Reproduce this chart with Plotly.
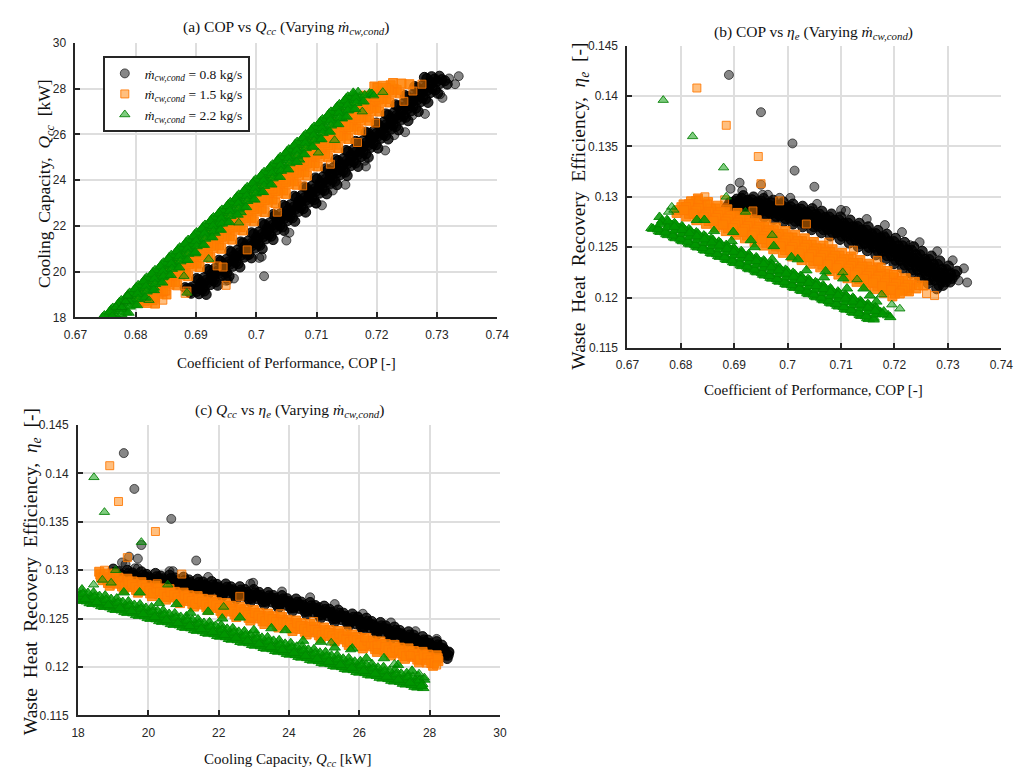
import plotly.graph_objects as go

# ======================= m_cw,cond = 0.8 kg/s =======================
# dense band, layer 1
cop_08 = [
    0.6917, 0.6889, 0.6910, 0.6882, 0.6936, 0.6908, 0.6929, 0.6901, 0.6955, 0.6926,
    0.6948, 0.6919, 0.6973, 0.6945, 0.6966, 0.6938, 0.6992, 0.6963, 0.6984, 0.6956,
    0.7010, 0.6981, 0.7003, 0.6974, 0.7028, 0.7000, 0.7021, 0.6992, 0.7046, 0.7018,
    0.7039, 0.7010, 0.7064, 0.7035, 0.7056, 0.7028, 0.7082, 0.7053, 0.7074, 0.7045,
    0.7099, 0.7071, 0.7092, 0.7063, 0.7117, 0.7088, 0.7109, 0.7080, 0.7134, 0.7106,
    0.7126, 0.7098, 0.7151, 0.7123, 0.7144, 0.7115, 0.7169, 0.7140, 0.7161, 0.7132,
    0.7186, 0.7157, 0.7177, 0.7149, 0.7202, 0.7174, 0.7194, 0.7165, 0.7219, 0.7190,
    0.7211, 0.7182, 0.7236, 0.7207, 0.7227, 0.7199, 0.7252, 0.7223, 0.7244, 0.7215,
    0.7269, 0.7240, 0.7260, 0.7231, 0.7285, 0.7256, 0.7276, 0.7247, 0.7301, 0.7272,
    0.7292, 0.7263, 0.7317, 0.7288, 0.7308, 0.7279,
]
qcc_08 = [
    19.0, 19.1, 19.2, 19.3, 19.4, 19.5, 19.6, 19.7, 19.8, 19.9,
    20.0, 20.1, 20.2, 20.3, 20.4, 20.5, 20.6, 20.7, 20.8, 20.9,
    21.0, 21.1, 21.2, 21.3, 21.4, 21.5, 21.6, 21.7, 21.8, 21.9,
    22.0, 22.1, 22.2, 22.3, 22.4, 22.5, 22.6, 22.7, 22.8, 22.9,
    23.0, 23.1, 23.2, 23.3, 23.4, 23.5, 23.6, 23.7, 23.8, 23.9,
    24.0, 24.1, 24.2, 24.3, 24.4, 24.5, 24.6, 24.7, 24.8, 24.9,
    25.0, 25.1, 25.2, 25.3, 25.4, 25.5, 25.6, 25.7, 25.8, 25.9,
    26.0, 26.1, 26.2, 26.3, 26.4, 26.5, 26.6, 26.7, 26.8, 26.9,
    27.0, 27.1, 27.2, 27.3, 27.4, 27.5, 27.6, 27.7, 27.8, 27.9,
    28.0, 28.1, 28.2, 28.3, 28.4, 28.5,
]
eta_08 = [
    0.13012, 0.12919, 0.12961, 0.12867, 0.12999, 0.12905, 0.12947, 0.12853, 0.12984, 0.12890,
    0.12931, 0.12837, 0.12967, 0.12873, 0.12913, 0.12819, 0.12949, 0.12854, 0.12894, 0.12799,
    0.12929, 0.12833, 0.12873, 0.12777, 0.12907, 0.12811, 0.12850, 0.12754, 0.12883, 0.12787,
    0.12825, 0.12729, 0.12858, 0.12761, 0.12799, 0.12702, 0.12830, 0.12733, 0.12771, 0.12674,
    0.12801, 0.12704, 0.12741, 0.12643, 0.12770, 0.12672, 0.12709, 0.12611, 0.12738, 0.12639,
    0.12676, 0.12577, 0.12703, 0.12604, 0.12640, 0.12541, 0.12667, 0.12568, 0.12603, 0.12504,
    0.12629, 0.12529, 0.12565, 0.12465, 0.12589, 0.12489, 0.12524, 0.12424, 0.12548, 0.12447,
    0.12482, 0.12381, 0.12505, 0.12404, 0.12437, 0.12336, 0.12460, 0.12358, 0.12392, 0.12290,
    0.12413, 0.12311, 0.12344, 0.12242, 0.12364, 0.12262, 0.12294, 0.12192, 0.12314, 0.12211,
    0.12243, 0.12140, 0.12262, 0.12159, 0.12190, 0.12087,
]
# dense band, layer 2
cop_08_b = [
    0.6892, 0.6914, 0.6885, 0.6907, 0.6911, 0.6933, 0.6904, 0.6926, 0.6930, 0.6951,
    0.6923, 0.6944, 0.6948, 0.6970, 0.6941, 0.6963, 0.6967, 0.6988, 0.6959, 0.6981,
    0.6985, 0.7006, 0.6978, 0.6999, 0.7003, 0.7025, 0.6996, 0.7017, 0.7021, 0.7043,
    0.7014, 0.7035, 0.7039, 0.7060, 0.7031, 0.7053, 0.7057, 0.7078, 0.7049, 0.7070,
    0.7074, 0.7096, 0.7067, 0.7088, 0.7092, 0.7113, 0.7084, 0.7105, 0.7109, 0.7131,
    0.7101, 0.7123, 0.7126, 0.7148, 0.7119, 0.7140, 0.7144, 0.7165, 0.7136, 0.7157,
    0.7161, 0.7182, 0.7152, 0.7174, 0.7177, 0.7199, 0.7169, 0.7190, 0.7194, 0.7215,
    0.7186, 0.7207, 0.7211, 0.7232, 0.7202, 0.7224, 0.7227, 0.7248, 0.7219, 0.7240,
    0.7244, 0.7265, 0.7235, 0.7256, 0.7260, 0.7281, 0.7251, 0.7272, 0.7276, 0.7297,
    0.7267, 0.7288, 0.7292, 0.7313, 0.7283, 0.7304,
]
qcc_08_b = [
    19.05, 19.15, 19.25, 19.35, 19.45, 19.55, 19.65, 19.75, 19.85, 19.95,
    20.05, 20.15, 20.25, 20.35, 20.45, 20.55, 20.65, 20.75, 20.85, 20.95,
    21.05, 21.15, 21.25, 21.35, 21.45, 21.55, 21.65, 21.75, 21.85, 21.95,
    22.05, 22.15, 22.25, 22.35, 22.45, 22.55, 22.65, 22.75, 22.85, 22.95,
    23.05, 23.15, 23.25, 23.35, 23.45, 23.55, 23.65, 23.75, 23.85, 23.95,
    24.05, 24.15, 24.25, 24.35, 24.45, 24.55, 24.65, 24.75, 24.85, 24.95,
    25.05, 25.15, 25.25, 25.35, 25.45, 25.55, 25.65, 25.75, 25.85, 25.95,
    26.05, 26.15, 26.25, 26.35, 26.45, 26.55, 26.65, 26.75, 26.85, 26.95,
    27.05, 27.15, 27.25, 27.35, 27.45, 27.55, 27.65, 27.75, 27.85, 27.95,
    28.05, 28.15, 28.25, 28.35, 28.45, 28.55,
]
eta_08_b = [
    0.12945, 0.12986, 0.12894, 0.12934, 0.12932, 0.12972, 0.12880, 0.12920, 0.12917, 0.12957,
    0.12864, 0.12904, 0.12900, 0.12940, 0.12846, 0.12886, 0.12882, 0.12921, 0.12827, 0.12866,
    0.12862, 0.12900, 0.12806, 0.12844, 0.12840, 0.12878, 0.12783, 0.12821, 0.12816, 0.12854,
    0.12758, 0.12796, 0.12791, 0.12828, 0.12732, 0.12769, 0.12763, 0.12800, 0.12704, 0.12741,
    0.12734, 0.12771, 0.12674, 0.12710, 0.12703, 0.12739, 0.12642, 0.12678, 0.12671, 0.12706,
    0.12609, 0.12644, 0.12636, 0.12671, 0.12573, 0.12608, 0.12600, 0.12635, 0.12536, 0.12571,
    0.12562, 0.12596, 0.12498, 0.12532, 0.12522, 0.12556, 0.12457, 0.12491, 0.12481, 0.12514,
    0.12415, 0.12448, 0.12438, 0.12471, 0.12370, 0.12403, 0.12393, 0.12425, 0.12325, 0.12357,
    0.12346, 0.12378, 0.12277, 0.12309, 0.12297, 0.12329, 0.12227, 0.12259, 0.12247, 0.12278,
    0.12176, 0.12207, 0.12195, 0.12226, 0.12123, 0.12154,
]
# dense band, layer 3
cop_08_c = [
    0.6905, 0.6901, 0.6898, 0.6894, 0.6924, 0.6920, 0.6917, 0.6913, 0.6943, 0.6938,
    0.6936, 0.6931, 0.6961, 0.6957, 0.6954, 0.6950, 0.6980, 0.6975, 0.6972, 0.6968,
    0.6998, 0.6993, 0.6991, 0.6986, 0.7016, 0.7012, 0.7009, 0.7004, 0.7034, 0.7030,
    0.7027, 0.7022, 0.7052, 0.7047, 0.7044, 0.7040, 0.7070, 0.7065, 0.7062, 0.7057,
    0.7087, 0.7083, 0.7080, 0.7075, 0.7105, 0.7100, 0.7097, 0.7092, 0.7122, 0.7118,
    0.7114, 0.7110, 0.7139, 0.7135, 0.7132, 0.7127, 0.7157, 0.7152, 0.7149, 0.7144,
    0.7174, 0.7169, 0.7165, 0.7161, 0.7190, 0.7186, 0.7182, 0.7177, 0.7207, 0.7202,
    0.7199, 0.7194, 0.7224, 0.7219, 0.7215, 0.7211, 0.7240, 0.7235, 0.7232, 0.7227,
    0.7257, 0.7252, 0.7248, 0.7243, 0.7273, 0.7268, 0.7264, 0.7259, 0.7289, 0.7284,
    0.7280, 0.7275, 0.7305, 0.7300, 0.7296, 0.7291,
]
qcc_08_c = [
    19.03, 19.13, 19.23, 19.33, 19.43, 19.53, 19.63, 19.73, 19.83, 19.93,
    20.03, 20.13, 20.23, 20.33, 20.43, 20.53, 20.63, 20.73, 20.83, 20.93,
    21.03, 21.13, 21.23, 21.33, 21.43, 21.53, 21.63, 21.73, 21.83, 21.93,
    22.03, 22.13, 22.23, 22.33, 22.43, 22.53, 22.63, 22.73, 22.83, 22.93,
    23.03, 23.13, 23.23, 23.33, 23.43, 23.53, 23.63, 23.73, 23.83, 23.93,
    24.03, 24.13, 24.23, 24.33, 24.43, 24.53, 24.63, 24.73, 24.83, 24.93,
    25.03, 25.13, 25.23, 25.33, 25.43, 25.53, 25.63, 25.73, 25.83, 25.93,
    26.03, 26.13, 26.23, 26.33, 26.43, 26.53, 26.63, 26.73, 26.83, 26.93,
    27.03, 27.13, 27.23, 27.33, 27.43, 27.53, 27.63, 27.73, 27.83, 27.93,
    28.03, 28.13, 28.23, 28.33, 28.43, 28.53,
]
eta_08_c = [
    0.12978, 0.12953, 0.12927, 0.12901, 0.12965, 0.12939, 0.12913, 0.12887, 0.12950, 0.12924,
    0.12897, 0.12871, 0.12933, 0.12907, 0.12879, 0.12853, 0.12915, 0.12888, 0.12860, 0.12833,
    0.12895, 0.12867, 0.12839, 0.12811, 0.12873, 0.12845, 0.12816, 0.12788, 0.12849, 0.12821,
    0.12791, 0.12763, 0.12824, 0.12795, 0.12765, 0.12736, 0.12796, 0.12767, 0.12737, 0.12708,
    0.12767, 0.12738, 0.12707, 0.12677, 0.12736, 0.12706, 0.12675, 0.12645, 0.12704, 0.12673,
    0.12642, 0.12611, 0.12669, 0.12638, 0.12606, 0.12575, 0.12633, 0.12602, 0.12569, 0.12538,
    0.12595, 0.12563, 0.12531, 0.12499, 0.12555, 0.12523, 0.12490, 0.12458, 0.12514, 0.12481,
    0.12448, 0.12415, 0.12471, 0.12438, 0.12403, 0.12370, 0.12426, 0.12392, 0.12358, 0.12324,
    0.12379, 0.12345, 0.12310, 0.12276, 0.12330, 0.12296, 0.12260, 0.12226, 0.12280, 0.12245,
    0.12209, 0.12174, 0.12228, 0.12193, 0.12156, 0.12121,
]
# scattered points along the band edge and isolated runs
cop_08_pts = [
    0.6963, 0.7005, 0.7055, 0.7109, 0.7148, 0.7182, 0.7214, 0.7247, 0.7280, 0.7309, 0.7330,
    0.6890, 0.6950, 0.7009, 0.7013, 0.7050, 0.7100, 0.7336, 0.7320, 0.7305, 0.7259,
    0.7229, 0.7180, 0.7127, 0.6893, 0.6910, 0.6915, 0.6950, 0.6953, 0.6985,
]
qcc_08_pts = [
    19.7, 20.6, 21.7, 22.9, 23.8, 24.6, 25.3, 26.1, 26.9, 27.6, 28.2,
    19.30, 19.60, 20.65, 19.80, 21.36, 22.98, 28.55, 28.45, 27.76, 26.83,
    25.97, 24.85, 23.55, 19.25, 19.45, 19.35, 19.70, 19.62, 20.70,
]
eta_08_pts = [
    0.1302, 0.1299, 0.1293, 0.1286, 0.1278, 0.1272, 0.1265, 0.1255, 0.1246, 0.1237, 0.1229,
    0.1421, 0.1384, 0.1353, 0.1326, 0.1310, 0.1287, 0.1215, 0.1217, 0.1225, 0.1236,
    0.1252, 0.1262, 0.1270, 0.1308, 0.1314, 0.1306, 0.1312, 0.1302, 0.1299,
]

# ======================= m_cw,cond = 1.5 kg/s =======================
cop_15 = [
    0.6832, 0.6801, 0.6823, 0.6792, 0.6851, 0.6819, 0.6842, 0.6810, 0.6869, 0.6838,
    0.6860, 0.6829, 0.6887, 0.6856, 0.6879, 0.6847, 0.6906, 0.6874, 0.6897, 0.6865,
    0.6924, 0.6893, 0.6915, 0.6884, 0.6942, 0.6911, 0.6933, 0.6902, 0.6960, 0.6929,
    0.6951, 0.6920, 0.6978, 0.6947, 0.6969, 0.6938, 0.6996, 0.6965, 0.6987, 0.6955,
    0.7014, 0.6982, 0.7005, 0.6973, 0.7032, 0.7000, 0.7022, 0.6991, 0.7049, 0.7018,
    0.7040, 0.7008, 0.7067, 0.7035, 0.7058, 0.7026, 0.7084, 0.7053, 0.7075, 0.7043,
    0.7102, 0.7070, 0.7092, 0.7061, 0.7119, 0.7087, 0.7110, 0.7078, 0.7136, 0.7105,
    0.7127, 0.7095, 0.7153, 0.7122, 0.7144, 0.7112, 0.7170, 0.7139, 0.7161, 0.7129,
    0.7187, 0.7156, 0.7178, 0.7146, 0.7204, 0.7172, 0.7195, 0.7163, 0.7221, 0.7189,
    0.7211, 0.7180, 0.7238, 0.7206, 0.7228, 0.7196, 0.7254,
]
qcc_15 = [
    18.6, 18.7, 18.8, 18.9, 19.0, 19.1, 19.2, 19.3, 19.4, 19.5,
    19.6, 19.7, 19.8, 19.9, 20.0, 20.1, 20.2, 20.3, 20.4, 20.5,
    20.6, 20.7, 20.8, 20.9, 21.0, 21.1, 21.2, 21.3, 21.4, 21.5,
    21.6, 21.7, 21.8, 21.9, 22.0, 22.1, 22.2, 22.3, 22.4, 22.5,
    22.6, 22.7, 22.8, 22.9, 23.0, 23.1, 23.2, 23.3, 23.4, 23.5,
    23.6, 23.7, 23.8, 23.9, 24.0, 24.1, 24.2, 24.3, 24.4, 24.5,
    24.6, 24.7, 24.8, 24.9, 25.0, 25.1, 25.2, 25.3, 25.4, 25.5,
    25.6, 25.7, 25.8, 25.9, 26.0, 26.1, 26.2, 26.3, 26.4, 26.5,
    26.6, 26.7, 26.8, 26.9, 27.0, 27.1, 27.2, 27.3, 27.4, 27.5,
    27.6, 27.7, 27.8, 27.9, 28.0, 28.1, 28.2,
]
eta_15 = [
    0.12984, 0.12897, 0.12927, 0.12840, 0.12948, 0.12861, 0.12891, 0.12804, 0.12912, 0.12825,
    0.12855, 0.12768, 0.12876, 0.12789, 0.12819, 0.12732, 0.12840, 0.12753, 0.12783, 0.12696,
    0.12804, 0.12717, 0.12747, 0.12660, 0.12768, 0.12681, 0.12711, 0.12624, 0.12732, 0.12645,
    0.12675, 0.12588, 0.12696, 0.12609, 0.12639, 0.12552, 0.12660, 0.12573, 0.12603, 0.12516,
    0.12624, 0.12537, 0.12567, 0.12480, 0.12588, 0.12501, 0.12531, 0.12444, 0.12552, 0.12465,
    0.12495, 0.12408, 0.12516, 0.12429, 0.12459, 0.12372, 0.12480, 0.12393, 0.12423, 0.12336,
    0.12444, 0.12357, 0.12387, 0.12300, 0.12408, 0.12321, 0.12351, 0.12264, 0.12372, 0.12285,
    0.12315, 0.12228, 0.12336, 0.12249, 0.12279, 0.12192, 0.12300, 0.12213, 0.12243, 0.12156,
    0.12264, 0.12177, 0.12207, 0.12120, 0.12228, 0.12141, 0.12171, 0.12084, 0.12192, 0.12105,
    0.12135, 0.12048, 0.12156, 0.12069, 0.12099, 0.12012, 0.12120,
]
cop_15_b = [
    0.6805, 0.6828, 0.6796, 0.6819, 0.6824, 0.6846, 0.6815, 0.6837, 0.6842, 0.6865,
    0.6833, 0.6856, 0.6860, 0.6883, 0.6852, 0.6874, 0.6879, 0.6901, 0.6870, 0.6892,
    0.6897, 0.6920, 0.6888, 0.6911, 0.6915, 0.6938, 0.6906, 0.6929, 0.6933, 0.6956,
    0.6924, 0.6947, 0.6951, 0.6974, 0.6942, 0.6965, 0.6969, 0.6992, 0.6960, 0.6982,
    0.6987, 0.7009, 0.6978, 0.7000, 0.7005, 0.7027, 0.6995, 0.7018, 0.7022, 0.7045,
    0.7013, 0.7035, 0.7040, 0.7062, 0.7031, 0.7053, 0.7057, 0.7080, 0.7048, 0.7070,
    0.7075, 0.7097, 0.7065, 0.7088, 0.7092, 0.7114, 0.7083, 0.7105, 0.7109, 0.7132,
    0.7100, 0.7122, 0.7126, 0.7149, 0.7117, 0.7139, 0.7143, 0.7166, 0.7134, 0.7156,
    0.7160, 0.7183, 0.7151, 0.7173, 0.7177, 0.7199, 0.7168, 0.7190, 0.7194, 0.7216,
    0.7184, 0.7207, 0.7211, 0.7233, 0.7201, 0.7223, 0.7227,
]
qcc_15_b = [
    18.65, 18.75, 18.85, 18.95, 19.05, 19.15, 19.25, 19.35, 19.45, 19.55,
    19.65, 19.75, 19.85, 19.95, 20.05, 20.15, 20.25, 20.35, 20.45, 20.55,
    20.65, 20.75, 20.85, 20.95, 21.05, 21.15, 21.25, 21.35, 21.45, 21.55,
    21.65, 21.75, 21.85, 21.95, 22.05, 22.15, 22.25, 22.35, 22.45, 22.55,
    22.65, 22.75, 22.85, 22.95, 23.05, 23.15, 23.25, 23.35, 23.45, 23.55,
    23.65, 23.75, 23.85, 23.95, 24.05, 24.15, 24.25, 24.35, 24.45, 24.55,
    24.65, 24.75, 24.85, 24.95, 25.05, 25.15, 25.25, 25.35, 25.45, 25.55,
    25.65, 25.75, 25.85, 25.95, 26.05, 26.15, 26.25, 26.35, 26.45, 26.55,
    26.65, 26.75, 26.85, 26.95, 27.05, 27.15, 27.25, 27.35, 27.45, 27.55,
    27.65, 27.75, 27.85, 27.95, 28.05, 28.15, 28.25,
]
eta_15_b = [
    0.12925, 0.12956, 0.12868, 0.12899, 0.12889, 0.12920, 0.12832, 0.12863, 0.12853, 0.12884,
    0.12796, 0.12827, 0.12817, 0.12848, 0.12760, 0.12791, 0.12781, 0.12812, 0.12724, 0.12755,
    0.12745, 0.12776, 0.12688, 0.12719, 0.12709, 0.12740, 0.12652, 0.12683, 0.12673, 0.12704,
    0.12616, 0.12647, 0.12637, 0.12668, 0.12580, 0.12611, 0.12601, 0.12632, 0.12544, 0.12575,
    0.12565, 0.12596, 0.12508, 0.12539, 0.12529, 0.12560, 0.12472, 0.12503, 0.12493, 0.12524,
    0.12436, 0.12467, 0.12457, 0.12488, 0.12400, 0.12431, 0.12421, 0.12452, 0.12364, 0.12395,
    0.12385, 0.12416, 0.12328, 0.12359, 0.12349, 0.12380, 0.12292, 0.12323, 0.12313, 0.12344,
    0.12256, 0.12287, 0.12277, 0.12308, 0.12220, 0.12251, 0.12241, 0.12272, 0.12184, 0.12215,
    0.12205, 0.12236, 0.12148, 0.12179, 0.12169, 0.12200, 0.12112, 0.12143, 0.12133, 0.12164,
    0.12076, 0.12107, 0.12097, 0.12128, 0.12040, 0.12071, 0.12061,
]
cop_15_c = [
    0.6819, 0.6815, 0.6810, 0.6806, 0.6838, 0.6833, 0.6829, 0.6824, 0.6856, 0.6852,
    0.6847, 0.6843, 0.6874, 0.6870, 0.6866, 0.6861, 0.6893, 0.6888, 0.6884, 0.6879,
    0.6911, 0.6907, 0.6902, 0.6898, 0.6929, 0.6925, 0.6920, 0.6916, 0.6947, 0.6943,
    0.6938, 0.6934, 0.6965, 0.6961, 0.6956, 0.6952, 0.6983, 0.6979, 0.6974, 0.6969,
    0.7001, 0.6996, 0.6992, 0.6987, 0.7019, 0.7014, 0.7009, 0.7005, 0.7036, 0.7032,
    0.7027, 0.7022, 0.7054, 0.7049, 0.7045, 0.7040, 0.7071, 0.7067, 0.7062, 0.7057,
    0.7089, 0.7084, 0.7079, 0.7075, 0.7106, 0.7101, 0.7097, 0.7092, 0.7123, 0.7119,
    0.7114, 0.7109, 0.7140, 0.7136, 0.7131, 0.7126, 0.7157, 0.7153, 0.7148, 0.7143,
    0.7174, 0.7170, 0.7165, 0.7160, 0.7191, 0.7186, 0.7182, 0.7177, 0.7208, 0.7203,
    0.7198, 0.7194, 0.7225, 0.7220, 0.7215, 0.7210, 0.7241,
]
qcc_15_c = [
    18.63, 18.73, 18.83, 18.93, 19.03, 19.13, 19.23, 19.33, 19.43, 19.53,
    19.63, 19.73, 19.83, 19.93, 20.03, 20.13, 20.23, 20.33, 20.43, 20.53,
    20.63, 20.73, 20.83, 20.93, 21.03, 21.13, 21.23, 21.33, 21.43, 21.53,
    21.63, 21.73, 21.83, 21.93, 22.03, 22.13, 22.23, 22.33, 22.43, 22.53,
    22.63, 22.73, 22.83, 22.93, 23.03, 23.13, 23.23, 23.33, 23.43, 23.53,
    23.63, 23.73, 23.83, 23.93, 24.03, 24.13, 24.23, 24.33, 24.43, 24.53,
    24.63, 24.73, 24.83, 24.93, 25.03, 25.13, 25.23, 25.33, 25.43, 25.53,
    25.63, 25.73, 25.83, 25.93, 26.03, 26.13, 26.23, 26.33, 26.43, 26.53,
    26.63, 26.73, 26.83, 26.93, 27.03, 27.13, 27.23, 27.33, 27.43, 27.53,
    27.63, 27.73, 27.83, 27.93, 28.03, 28.13, 28.23,
]
eta_15_c = [
    0.12955, 0.12926, 0.12898, 0.12869, 0.12919, 0.12890, 0.12862, 0.12833, 0.12883, 0.12854,
    0.12826, 0.12797, 0.12847, 0.12818, 0.12790, 0.12761, 0.12811, 0.12782, 0.12754, 0.12725,
    0.12775, 0.12746, 0.12718, 0.12689, 0.12739, 0.12710, 0.12682, 0.12653, 0.12703, 0.12674,
    0.12646, 0.12617, 0.12667, 0.12638, 0.12610, 0.12581, 0.12631, 0.12602, 0.12574, 0.12545,
    0.12595, 0.12566, 0.12538, 0.12509, 0.12559, 0.12530, 0.12502, 0.12473, 0.12523, 0.12494,
    0.12466, 0.12437, 0.12487, 0.12458, 0.12430, 0.12401, 0.12451, 0.12422, 0.12394, 0.12365,
    0.12415, 0.12386, 0.12358, 0.12329, 0.12379, 0.12350, 0.12322, 0.12293, 0.12343, 0.12314,
    0.12286, 0.12257, 0.12307, 0.12278, 0.12250, 0.12221, 0.12271, 0.12242, 0.12214, 0.12185,
    0.12235, 0.12206, 0.12178, 0.12149, 0.12199, 0.12170, 0.12142, 0.12113, 0.12163, 0.12134,
    0.12106, 0.12077, 0.12127, 0.12098, 0.12070, 0.12041, 0.12091,
]
cop_15_pts = [
    0.6830, 0.6885, 0.6945, 0.6950, 0.6833, 0.6845, 0.6850, 0.6882, 0.6985, 0.6935,
    0.7035, 0.7077, 0.7123, 0.7168, 0.7175, 0.7198, 0.7245, 0.7260, 0.7275,
]
qcc_15_pts = [
    18.90, 19.15, 20.20, 19.40, 18.85, 18.75, 19.15, 19.05, 20.95, 20.25,
    22.60, 23.75, 24.70, 25.65, 26.15, 26.50, 27.45, 27.90, 28.20,
]
eta_15_pts = [
    0.1408, 0.1371, 0.1340, 0.1313, 0.1297, 0.1300, 0.1293, 0.1297, 0.1296, 0.1286,
    0.1273, 0.1255, 0.1247, 0.1237, 0.1230, 0.1223, 0.1212, 0.1204, 0.1202,
]

# ======================= m_cw,cond = 2.2 kg/s =======================
cop_22 = [
    0.6745, 0.6759, 0.6773, 0.6787, 0.6801, 0.6815, 0.6829, 0.6843, 0.6856, 0.6870,
    0.6884, 0.6898, 0.6912, 0.6926, 0.6940, 0.6954, 0.6968, 0.6982, 0.6996, 0.7010,
    0.7024, 0.7037, 0.7051, 0.7065, 0.7079, 0.7093, 0.7107, 0.7121, 0.7135, 0.7149,
    0.6757, 0.6771, 0.6785, 0.6799, 0.6813, 0.6827, 0.6841, 0.6855, 0.6868, 0.6882,
    0.6896, 0.6910, 0.6924, 0.6938, 0.6952, 0.6966, 0.6980, 0.6994, 0.7008, 0.7022,
    0.7036, 0.7049, 0.7063, 0.7077, 0.7091, 0.7105, 0.7119, 0.7133, 0.7147, 0.7161,
    0.6760, 0.6774, 0.6788, 0.6802, 0.6815, 0.6829, 0.6843, 0.6857, 0.6871, 0.6885,
    0.6899, 0.6913, 0.6927, 0.6941, 0.6955, 0.6969, 0.6982, 0.6996, 0.7010, 0.7024,
    0.7038, 0.7052, 0.7066, 0.7080, 0.7094, 0.7108, 0.7122, 0.7136, 0.7150, 0.7164,
    0.6784, 0.6798, 0.6812, 0.6826, 0.6840, 0.6854, 0.6868, 0.6882, 0.6896, 0.6910,
    0.6924, 0.6938, 0.6951, 0.6965, 0.6979, 0.6993, 0.7007, 0.7021, 0.7035, 0.7049,
    0.7063, 0.7077, 0.7091, 0.7105, 0.7119, 0.7132, 0.7146, 0.7160, 0.7174, 0.7188,
]
qcc_22 = [
    18.00, 18.33, 18.66, 18.99, 19.32, 19.65, 19.98, 20.31, 20.64, 20.97,
    21.30, 21.63, 21.96, 22.29, 22.62, 22.95, 23.28, 23.61, 23.94, 24.27,
    24.60, 24.93, 25.26, 25.59, 25.92, 26.25, 26.58, 26.91, 27.24, 27.57,
    18.17, 18.50, 18.83, 19.16, 19.49, 19.82, 20.15, 20.48, 20.81, 21.14,
    21.47, 21.80, 22.13, 22.46, 22.79, 23.12, 23.45, 23.78, 24.11, 24.44,
    24.77, 25.10, 25.43, 25.76, 26.09, 26.42, 26.75, 27.08, 27.41, 27.74,
    18.11, 18.44, 18.77, 19.10, 19.43, 19.76, 20.09, 20.42, 20.75, 21.08,
    21.41, 21.74, 22.07, 22.40, 22.73, 23.06, 23.39, 23.72, 24.05, 24.38,
    24.71, 25.04, 25.37, 25.70, 26.03, 26.36, 26.69, 27.02, 27.35, 27.68,
    18.22, 18.55, 18.88, 19.21, 19.54, 19.87, 20.20, 20.53, 20.86, 21.19,
    21.52, 21.85, 22.18, 22.51, 22.84, 23.17, 23.50, 23.83, 24.16, 24.49,
    24.82, 25.15, 25.48, 25.81, 26.14, 26.47, 26.80, 27.13, 27.46, 27.79,
]
eta_22 = [
    0.12690, 0.12659, 0.12628, 0.12597, 0.12567, 0.12536, 0.12505, 0.12474, 0.12443, 0.12412,
    0.12381, 0.12351, 0.12320, 0.12289, 0.12258, 0.12227, 0.12196, 0.12165, 0.12135, 0.12104,
    0.12073, 0.12042, 0.12011, 0.11980, 0.11949, 0.11919, 0.11888, 0.11857, 0.11826, 0.11795,
    0.12695, 0.12664, 0.12633, 0.12602, 0.12572, 0.12541, 0.12510, 0.12479, 0.12448, 0.12417,
    0.12386, 0.12356, 0.12325, 0.12294, 0.12263, 0.12232, 0.12201, 0.12170, 0.12140, 0.12109,
    0.12078, 0.12047, 0.12016, 0.11985, 0.11954, 0.11924, 0.11893, 0.11862, 0.11831, 0.11800,
    0.12800, 0.12769, 0.12738, 0.12707, 0.12677, 0.12646, 0.12615, 0.12584, 0.12553, 0.12522,
    0.12491, 0.12461, 0.12430, 0.12399, 0.12368, 0.12337, 0.12306, 0.12275, 0.12245, 0.12214,
    0.12183, 0.12152, 0.12121, 0.12090, 0.12059, 0.12029, 0.11998, 0.11967, 0.11936, 0.11905,
    0.12719, 0.12688, 0.12657, 0.12626, 0.12596, 0.12565, 0.12534, 0.12503, 0.12472, 0.12441,
    0.12410, 0.12380, 0.12349, 0.12318, 0.12287, 0.12256, 0.12225, 0.12194, 0.12164, 0.12133,
    0.12102, 0.12071, 0.12040, 0.12009, 0.11978, 0.11948, 0.11917, 0.11886, 0.11855, 0.11824,
]
cop_22_b = [
    0.6767, 0.6781, 0.6795, 0.6809, 0.6823, 0.6837, 0.6851, 0.6865, 0.6878, 0.6892,
    0.6906, 0.6920, 0.6934, 0.6948, 0.6962, 0.6976, 0.6990, 0.7004, 0.7018, 0.7032,
    0.7046, 0.7059, 0.7073, 0.7087, 0.7101, 0.7115, 0.7129, 0.7143, 0.7157, 0.7171,
    0.6765, 0.6779, 0.6793, 0.6807, 0.6821, 0.6835, 0.6849, 0.6863, 0.6876, 0.6890,
    0.6904, 0.6918, 0.6932, 0.6946, 0.6960, 0.6974, 0.6988, 0.7002, 0.7016, 0.7030,
    0.7044, 0.7057, 0.7071, 0.7085, 0.7099, 0.7113, 0.7127, 0.7141, 0.7155, 0.7169,
    0.6748, 0.6762, 0.6776, 0.6790, 0.6804, 0.6818, 0.6832, 0.6846, 0.6859, 0.6873,
    0.6887, 0.6901, 0.6915, 0.6929, 0.6943, 0.6957, 0.6971, 0.6985, 0.6999, 0.7013,
    0.7027, 0.7040, 0.7054, 0.7068, 0.7082, 0.7096, 0.7110, 0.7124, 0.7138, 0.7152,
    0.6757, 0.6771, 0.6785, 0.6799, 0.6813, 0.6827, 0.6841, 0.6855, 0.6868, 0.6882,
    0.6896, 0.6910, 0.6924, 0.6938, 0.6952, 0.6966, 0.6980, 0.6994, 0.7008, 0.7022,
    0.7036, 0.7049, 0.7063, 0.7077, 0.7091, 0.7105, 0.7119, 0.7133, 0.7147, 0.7161,
    0.6830, 0.6844, 0.6862, 0.6898, 0.6895, 0.6931, 0.6938, 0.6974, 0.6971, 0.7007,
    0.7019, 0.7035, 0.7071, 0.7068, 0.7104, 0.7111, 0.7142, 0.7154, 0.7166,
]
qcc_22_b = [
    18.06, 18.39, 18.72, 19.05, 19.38, 19.71, 20.04, 20.37, 20.70, 21.03,
    21.36, 21.69, 22.02, 22.35, 22.68, 23.01, 23.34, 23.67, 24.00, 24.33,
    24.66, 24.99, 25.32, 25.65, 25.98, 26.31, 26.64, 26.97, 27.30, 27.63,
    18.28, 18.61, 18.94, 19.27, 19.60, 19.93, 20.26, 20.59, 20.92, 21.25,
    21.58, 21.91, 22.24, 22.57, 22.90, 23.23, 23.56, 23.89, 24.22, 24.55,
    24.88, 25.21, 25.54, 25.87, 26.20, 26.53, 26.86, 27.19, 27.52, 27.85,
    18.08, 18.41, 18.74, 19.07, 19.40, 19.73, 20.06, 20.39, 20.72, 21.05,
    21.38, 21.71, 22.04, 22.37, 22.70, 23.03, 23.36, 23.69, 24.02, 24.35,
    24.68, 25.01, 25.34, 25.67, 26.00, 26.33, 26.66, 26.99, 27.32, 27.65,
    18.25, 18.58, 18.91, 19.24, 19.57, 19.90, 20.23, 20.56, 20.89, 21.22,
    21.55, 21.88, 22.21, 22.54, 22.87, 23.20, 23.53, 23.86, 24.19, 24.52,
    24.85, 25.18, 25.51, 25.84, 26.17, 26.50, 26.83, 27.16, 27.49, 27.82,
    19.30, 19.75, 20.30, 20.80, 21.20, 21.70, 22.10, 22.60, 23.00, 23.50,
    23.90, 24.40, 24.90, 25.30, 25.80, 26.20, 26.70, 27.10, 27.50,
]
eta_22_b = [
    0.12745, 0.12714, 0.12683, 0.12652, 0.12622, 0.12591, 0.12560, 0.12529, 0.12498, 0.12467,
    0.12436, 0.12406, 0.12375, 0.12344, 0.12313, 0.12282, 0.12251, 0.12220, 0.12190, 0.12159,
    0.12128, 0.12097, 0.12066, 0.12035, 0.12004, 0.11974, 0.11943, 0.11912, 0.11881, 0.11850,
    0.12764, 0.12733, 0.12702, 0.12671, 0.12641, 0.12610, 0.12579, 0.12548, 0.12517, 0.12486,
    0.12455, 0.12425, 0.12394, 0.12363, 0.12332, 0.12301, 0.12270, 0.12239, 0.12209, 0.12178,
    0.12147, 0.12116, 0.12085, 0.12054, 0.12023, 0.11993, 0.11962, 0.11931, 0.11900, 0.11869,
    0.12682, 0.12651, 0.12620, 0.12589, 0.12559, 0.12528, 0.12497, 0.12466, 0.12435, 0.12404,
    0.12373, 0.12343, 0.12312, 0.12281, 0.12250, 0.12219, 0.12188, 0.12157, 0.12127, 0.12096,
    0.12065, 0.12034, 0.12003, 0.11972, 0.11941, 0.11911, 0.11880, 0.11849, 0.11818, 0.11787,
    0.12677, 0.12646, 0.12615, 0.12584, 0.12554, 0.12523, 0.12492, 0.12461, 0.12430, 0.12399,
    0.12368, 0.12338, 0.12307, 0.12276, 0.12245, 0.12214, 0.12183, 0.12152, 0.12122, 0.12091,
    0.12060, 0.12029, 0.11998, 0.11967, 0.11936, 0.11906, 0.11875, 0.11844, 0.11813, 0.11782,
    0.1277, 0.1277, 0.1266, 0.1265, 0.1256, 0.1257, 0.1250, 0.1251, 0.1238, 0.1240,
    0.1238, 0.1227, 0.1226, 0.1220, 0.1219, 0.1209, 0.1209, 0.1202, 0.1196,
]
cop_22_c = [
    0.6761, 0.6775, 0.6789, 0.6803, 0.6817, 0.6831, 0.6845, 0.6859, 0.6872, 0.6886,
    0.6900, 0.6914, 0.6928, 0.6942, 0.6956, 0.6970, 0.6984, 0.6998, 0.7012, 0.7026,
    0.7040, 0.7053, 0.7067, 0.7081, 0.7095, 0.7109, 0.7123, 0.7137, 0.7151, 0.7165,
    0.6776, 0.6790, 0.6804, 0.6818, 0.6832, 0.6846, 0.6860, 0.6874, 0.6887, 0.6901,
    0.6915, 0.6929, 0.6943, 0.6957, 0.6971, 0.6985, 0.6999, 0.7013, 0.7027, 0.7041,
    0.7055, 0.7068, 0.7082, 0.7096, 0.7110, 0.7124, 0.7138, 0.7152, 0.7166, 0.7180,
    0.6788, 0.6802, 0.6816, 0.6830, 0.6844, 0.6858, 0.6872, 0.6886, 0.6899, 0.6913,
    0.6927, 0.6941, 0.6955, 0.6969, 0.6983, 0.6997, 0.7011, 0.7025, 0.7039, 0.7053,
    0.7067, 0.7080, 0.7094, 0.7108, 0.7122, 0.7136, 0.7150, 0.7164, 0.7178, 0.7192,
]
qcc_22_c = [
    18.03, 18.36, 18.69, 19.02, 19.35, 19.68, 20.01, 20.34, 20.67, 21.00,
    21.33, 21.66, 21.99, 22.32, 22.65, 22.98, 23.31, 23.64, 23.97, 24.30,
    24.63, 24.96, 25.29, 25.62, 25.95, 26.28, 26.61, 26.94, 27.27, 27.60,
    18.14, 18.47, 18.80, 19.13, 19.46, 19.79, 20.12, 20.45, 20.78, 21.11,
    21.44, 21.77, 22.10, 22.43, 22.76, 23.09, 23.42, 23.75, 24.08, 24.41,
    24.74, 25.07, 25.40, 25.73, 26.06, 26.39, 26.72, 27.05, 27.38, 27.71,
    18.20, 18.53, 18.86, 19.19, 19.52, 19.85, 20.18, 20.51, 20.84, 21.17,
    21.50, 21.83, 22.16, 22.49, 22.82, 23.15, 23.48, 23.81, 24.14, 24.47,
    24.80, 25.13, 25.46, 25.79, 26.12, 26.45, 26.78, 27.11, 27.44, 27.77,
]
eta_22_c = [
    0.12727, 0.12696, 0.12665, 0.12634, 0.12604, 0.12573, 0.12542, 0.12511, 0.12480, 0.12449,
    0.12418, 0.12388, 0.12357, 0.12326, 0.12295, 0.12264, 0.12233, 0.12202, 0.12172, 0.12141,
    0.12110, 0.12079, 0.12048, 0.12017, 0.11986, 0.11956, 0.11925, 0.11894, 0.11863, 0.11832,
    0.12757, 0.12726, 0.12695, 0.12664, 0.12634, 0.12603, 0.12572, 0.12541, 0.12510, 0.12479,
    0.12448, 0.12418, 0.12387, 0.12356, 0.12325, 0.12294, 0.12263, 0.12232, 0.12202, 0.12171,
    0.12140, 0.12109, 0.12078, 0.12047, 0.12016, 0.11986, 0.11955, 0.11924, 0.11893, 0.11862,
    0.12701, 0.12670, 0.12639, 0.12608, 0.12578, 0.12547, 0.12516, 0.12485, 0.12454, 0.12423,
    0.12392, 0.12362, 0.12331, 0.12300, 0.12269, 0.12238, 0.12207, 0.12176, 0.12146, 0.12115,
    0.12084, 0.12053, 0.12022, 0.11991, 0.11960, 0.11930, 0.11899, 0.11868, 0.11837, 0.11806,
]
cop_22_pts = [
    0.6767, 0.6822, 0.6880, 0.6885, 0.6921, 0.6971, 0.6777, 0.6783, 0.6787, 0.7103,
    0.7130, 0.7195, 0.7210, 0.7176,
]
qcc_22_pts = [
    18.45, 18.75, 19.80, 19.07, 20.55, 22.14, 18.44, 18.69, 18.94, 25.20,
    25.75, 27.70, 27.85, 27.00,
]
eta_22_pts = [
    0.1396, 0.1360, 0.1329, 0.1300, 0.1285, 0.1262, 0.1285, 0.1290, 0.1287, 0.1225,
    0.1218, 0.1193, 0.1189, 0.1203,
]

# ======================= tick labels =======================
cop_ticks = [0.67, 0.68, 0.69, 0.70, 0.71, 0.72, 0.73, 0.74]
cop_tick_text = ["0.67", "0.68", "0.69", "0.7", "0.71", "0.72", "0.73", "0.74"]
qcc_ticks = [18, 20, 22, 24, 26, 28, 30]
qcc_tick_text = ["18", "20", "22", "24", "26", "28", "30"]
eta_ticks = [0.115, 0.12, 0.125, 0.13, 0.135, 0.14, 0.145]
eta_tick_text = ["0.115", "0.12", "0.125", "0.13", "0.135", "0.14", "0.145"]

MDOT = "<i>ṁ</i><sub><i>cw,cond</i></sub>"
QCC = "<i>Q</i><sub><i>cc</i></sub>"
ETA = "<i>η</i><sub><i>e</i></sub>"

# (label, band arrays, scattered arrays, symbol, band size, point size,
#  dense fill, dense edge, light fill, light edge)
series = [
    ("0.8",
     (cop_08 + cop_08_b + cop_08_c, qcc_08 + qcc_08_b + qcc_08_c, eta_08 + eta_08_b + eta_08_c),
     (cop_08_pts, qcc_08_pts, eta_08_pts), "circle", 10, 9,
     "rgba(0,0,0,0.8)", "rgba(0,0,0,0.9)", "rgba(0,0,0,0.47)", "rgba(0,0,0,0.62)"),
    ("1.5",
     (cop_15 + cop_15_b + cop_15_c, qcc_15 + qcc_15_b + qcc_15_c, eta_15 + eta_15_b + eta_15_c),
     (cop_15_pts, qcc_15_pts, eta_15_pts), "square", 9, 8,
     "rgba(255,128,0,0.85)", "rgba(255,122,0,0.9)", "rgba(255,128,0,0.5)", "rgba(255,120,0,0.85)"),
    ("2.2",
     (cop_22 + cop_22_b + cop_22_c, qcc_22 + qcc_22_b + qcc_22_c, eta_22 + eta_22_b + eta_22_c),
     (cop_22_pts, qcc_22_pts, eta_22_pts), "triangle-up", 10, 9,
     "rgba(0,150,0,0.85)", "rgba(0,135,0,0.9)", "rgba(0,153,0,0.5)", "rgba(0,125,0,0.85)"),
]

SERIF = "Liberation Serif, DejaVu Serif, serif"
SANS = "Liberation Sans Narrow, Liberation Sans, Arial, sans-serif"
W, H = 1018, 780

fig = go.Figure()
# column index per panel: 0 = COP, 1 = Q_cc, 2 = eta_e
panels = [("x", "y", 0, 1), ("x2", "y2", 0, 2), ("x3", "y3", 1, 2)]
for p, (xa, ya, xi, yi) in enumerate(panels):
    for name, band, pts, sym, bsize, psize, dfill, dedge, lfill, ledge in series:
        fig.add_trace(go.Scatter(
            x=band[xi], y=band[yi], xaxis=xa, yaxis=ya, mode="markers",
            showlegend=False, hoverinfo="skip",
            marker=dict(symbol=sym, size=bsize, color=dfill,
                        line=dict(color=dedge, width=1)),
        ))
        fig.add_trace(go.Scatter(
            x=pts[xi], y=pts[yi], xaxis=xa, yaxis=ya, mode="markers",
            name=f"{MDOT} = {name} kg/s", showlegend=(p == 0),
            marker=dict(symbol=sym, size=psize, color=lfill,
                        line=dict(color=ledge, width=1)),
        ))


def px_x(v):
    return v / W


def px_y(v):
    return 1 - v / H


axis_style = dict(
    showgrid=True, gridcolor="#dedede", gridwidth=1.6, zeroline=False,
    showline=True, linecolor="#262626", linewidth=2, mirror=False,
    ticks="inside", ticklen=5, tickwidth=1.5, tickcolor="#262626",
    tickfont=dict(family=SANS, size=12, color="#262626"),
    ticklabelstandoff=5,
)

fig.update_layout(
    width=W, height=H, margin=dict(l=0, r=0, t=0, b=0),
    paper_bgcolor="white", plot_bgcolor="white",
    xaxis=dict(axis_style, domain=[px_x(65), px_x(497)], range=[0.67, 0.74],
               tickvals=cop_ticks, ticktext=cop_tick_text, anchor="y"),
    yaxis=dict(axis_style, domain=[px_y(316), px_y(36.7)], range=[18, 30],
               tickvals=qcc_ticks, ticktext=qcc_tick_text, anchor="x"),
    xaxis2=dict(axis_style, domain=[px_x(630.3), px_x(1013.2)], range=[0.67, 0.74],
                tickvals=cop_ticks, ticktext=cop_tick_text, anchor="y2"),
    yaxis2=dict(axis_style, domain=[px_y(347.2), px_y(39.4)], range=[0.115, 0.145],
                tickvals=eta_ticks, ticktext=eta_tick_text, anchor="x2"),
    xaxis3=dict(axis_style, domain=[px_x(67.7), px_x(499.7)], range=[18, 30],
                tickvals=qcc_ticks, ticktext=qcc_tick_text, anchor="y3"),
    yaxis3=dict(axis_style, domain=[px_y(721.3), px_y(425.7)], range=[0.115, 0.145],
                tickvals=eta_ticks, ticktext=eta_tick_text, anchor="x3"),
    legend=dict(x=px_x(93), y=px_y(50), xanchor="left", yanchor="top",
                bgcolor="white", bordercolor="#262626", borderwidth=2,
                font=dict(family=SERIF, size=13.5, color="#111111"),
                tracegroupgap=0, itemwidth=30),
    font=dict(family=SERIF, color="#111111"),
)

NB = "\u00a0"
SP2 = NB * 2
labels = [
    # panel titles
    (281, 21, f"(a) COP vs {QCC} (Varying {MDOT})", 0, 15.5),
    (821, 26, f"(b) COP vs {ETA} (Varying {MDOT})", 0, 15.5),
    (284, 411, f"(c) {QCC} vs {ETA} (Varying {MDOT})", 0, 15.5),
    # x-axis labels
    (281, 362, "Coefficient of Performance, COP [-]", 0, 15),
    (821, 390, "Coefficient of Performance, COP [-]", 0, 15),
    (283, 767, f"Cooling Capacity, {QCC} [kW]", 0, 15),
    # y-axis labels
    (35, 180, f"Cooling{SP2}Capacity,{SP2}{QCC}{SP2}[kW]", -90, 17.5),
    (582, 203, f"Waste{SP2}Heat{SP2}Recovery{SP2}Efficiency,{SP2}{ETA}{SP2}[-]", -90, 19.5),
    (20, 575, f"Waste{SP2}Heat{SP2}Recovery{SP2}Efficiency,{SP2}{ETA}{SP2}[-]", -90, 19.5),
]
for x, y, text, angle, size in labels:
    fig.add_annotation(
        x=px_x(x), y=px_y(y), xref="paper", yref="paper", text=text,
        showarrow=False, textangle=angle, xanchor="center", yanchor="middle",
        font=dict(family=SERIF, size=size, color="#111111"),
    )

fig.write_html("out.html")
